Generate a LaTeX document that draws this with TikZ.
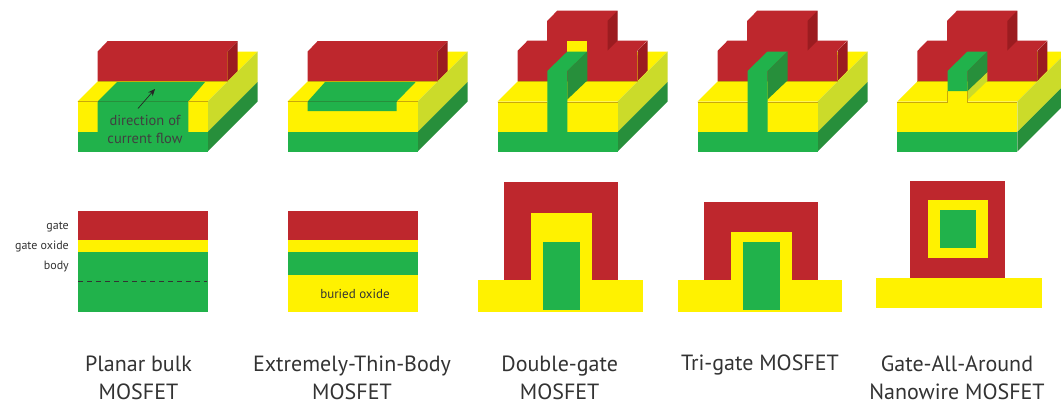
\documentclass[tikz,border=0pt]{standalone}
\usepackage{fontspec}
\setmainfont{PT Sans}
\usetikzlibrary{arrows.meta}
\definecolor{cred}{HTML}{BE272D}
\definecolor{dred}{HTML}{9B1C20}
\definecolor{cyel}{HTML}{FFF200}
\definecolor{cgrn}{HTML}{21B24B}
\definecolor{dgrn}{HTML}{278F3B}
\definecolor{lime}{HTML}{CBDB2A}
\definecolor{oliv}{HTML}{C9A80A}
\definecolor{txt}{HTML}{333333}
\tikzset{
  gatef/.style={fill=cred},
  gates/.style={fill=dred},
  oxf/.style={fill=cyel},
  oxs/.style={fill=lime},
  bodyf/.style={fill=cgrn},
  bodys/.style={fill=dgrn},
  oedge/.style={draw=oliv,line width=0.9pt},
  captext/.style={font=\fontsize{22}{27.5}\selectfont,align=center,text=txt,inner sep=0pt},
  smalltext/.style={font=\fontsize{12}{18}\selectfont,text=txt,inner sep=0pt},
}
% base slab: #1 = front left x, #2 = width
\newcommand{\slab}[2]{
  \fill[oxf] (#1,101.5) -- ++(50,-50) -- ++(#2,0) -- ++(-50,50) -- cycle;
  \fill[oxs] (#1+#2,101.5) -- ++(50,-50) -- ++(0,30.5) -- ++(-50,50) -- cycle;
  \fill[bodys] (#1+#2,132) -- ++(50,-50) -- ++(0,19.5) -- ++(-50,50) -- cycle;
  \fill[oxf] (#1,101.5) rectangle (#1+#2,132);
  \fill[bodyf] (#1,132) rectangle (#1+#2,151.5);
}
% low gate bar
\newcommand{\bargate}[1]{
  \fill[gatef] (#1,81) -- (#1,51.5) -- ++(10,-10.5) -- ++(130,0) -- ++(-10,10.5) -- (#1+130,81) -- cycle;
  \fill[gates] (#1+130,81) -- (#1+130,51.5) -- ++(10,-10.5) -- ++(0,30) -- cycle;
  \draw[oliv,line width=0.6pt] (#1,81) -- (#1+130,81);
}
% stepped gate
\newcommand{\stepgate}[1]{
  \fill[gatef] (#1,81) -- (#1,51) -- ++(10,-10.3) -- ++(19.7,0) -- ++(0,-19.7) -- ++(10,-10.3) -- ++(60,0) -- ++(0,30) -- ++(30,0) -- ++(-10,10.3) -- (#1+120,81) -- cycle;
  \fill[gates] (#1+120,81) -- (#1+120,51) -- ++(10,-10.3) -- ++(0,30) -- cycle;
  \fill[gates] (#1+90,50.5) -- (#1+90,21) -- ++(10,-10.3) -- ++(0,30) -- cycle;
  \draw[oliv,line width=0.6pt] (#1,81) -- (#1+120,81);
}
\begin{document}
\begin{tikzpicture}[x=1pt,y=-1pt]
\path[use as bounding box] (0,0) rectangle (1061,407);
\clip (0,0) rectangle (1061,407);
\fill[white] (0,0) rectangle (1061,407);

% ---- 3D panel 1
\slab{77.7}{130}
\fill[bodyf] (97.7,101.5) -- (118,81) -- (206,81) -- (188.3,101.5) -- (188.3,132) -- (97.7,132) -- cycle;
\bargate{97.7}
\draw[oedge] (77.7,101.5) -- (97.7,101.5) (188.3,101.5) -- (207.7,101.5);
\draw[dgrn,line width=0.7pt] (97.7,101.5) -- (188.3,101.5);
\coordinate (a1) at (138,108.5);
\coordinate (a2) at (155,89);
\draw[-{Stealth[length=7pt,width=6pt]},black!85,line width=0.7pt] (a1) -- (a2);
\node[smalltext,font=\fontsize{14.5}{18}\selectfont,align=center,text=black!75] (dir) at (145,129) {direction of\\current flow};

% ---- 3D panel 2
\slab{287.7}{130}
\fill[bodyf] (307.7,101.5) -- (326,81) -- (416.7,81) -- (396.7,101.5) -- (396.7,111) -- (307.7,111) -- cycle;
\bargate{307.7}
\draw[oedge] (287.7,101.5) -- (307.7,101.5) (396.7,101.5) -- (417.7,101.5);
\draw[dgrn,line width=0.7pt] (307.7,101.5) -- (396.7,101.5);

% ---- 3D panel 3
\slab{497.5}{120}
\stepgate{517.5}
\fill[oxf] (567.3,41) rectangle (587.3,51.5);
\draw[oedge] (497.5,102) -- (547.3,102) (567.3,102) -- (617.5,102);
\fill[bodyf] (547.3,132) -- (547.3,71) -- (567.3,51.5) -- (587.3,51.5) -- (567.3,71) -- (567.3,132) -- cycle;
\fill[bodys] (567.3,71) -- (587.3,51.5) -- (587.3,80.5) -- (567.3,99.5) -- cycle;

% ---- 3D panel 4
\slab{697.5}{120}
\stepgate{717.5}
\draw[oedge] (697.5,102) -- (747.5,102) (767.5,102) -- (817.5,102);
\fill[bodyf] (747.5,132) -- (747.5,71) -- (767.5,51.5) -- (787.5,51.5) -- (767.5,71) -- (767.5,132) -- cycle;
\fill[bodys] (767.5,71) -- (787.5,51.5) -- (787.5,80.5) -- (767.5,99.5) -- cycle;

% ---- 3D panel 5
\slab{897.3}{120}
\stepgate{917.3}
\fill[oxs] (967.5,91) -- (987.3,72) -- (987.3,81) -- (967.5,100) -- cycle;
\fill[oxf] (947.5,90) rectangle (967.5,103);
\draw[oedge] (897.3,102) -- (947.5,102) -- (947.5,91) (967.5,91) -- (967.5,102) -- (1017.3,102);
\fill[bodyf] (947.5,91) -- (947.5,71) -- (967.5,51.5) -- (987.3,51.5) -- (967.5,71) -- (967.5,91) -- cycle;
\fill[bodys] (967.5,71) -- (987.3,51.5) -- (987.3,72) -- (967.5,91) -- cycle;

% ---- cross-section 1
\fill[gatef] (77.7,210.7) rectangle (207.7,240);
\fill[oxf] (77.7,240) rectangle (207.7,251.7);
\fill[bodyf] (77.7,251.7) rectangle (207.7,312);
\draw[black!80,line width=0.8pt,dash pattern=on 4.5pt off 4.5pt] (78,281.7) -- (207,281.7);
\node[smalltext,anchor=east] (lgate) at (69,227) {gate};
\node[smalltext,anchor=east] (lox) at (69,247) {gate oxide};
\node[smalltext,anchor=east] (lbody) at (69,267) {body};

% ---- cross-section 2
\fill[gatef] (288.3,211) rectangle (418.3,240);
\fill[oxf] (288.3,240) rectangle (418.3,252);
\fill[bodyf] (288.3,252) rectangle (418.3,275.3);
\fill[oxf] (288.3,275.3) rectangle (418.3,311.7);
\node[smalltext,font=\fontsize{13}{18}\selectfont,text=black!80] (box) at (355,294) {buried oxide};

% ---- cross-section 3
\fill[gatef] (504,182) rectangle (617.5,280);
\fill[oxf] (477.5,279.7) rectangle (642.5,311.7);
\fill[oxf] (531.3,213.3) rectangle (592.2,280);
\fill[bodyf] (542.6,242) rectangle (580.2,310);

% ---- cross-section 4
\fill[gatef] (703.8,202) rectangle (817.7,280);
\fill[oxf] (677.5,279.7) rectangle (842.2,311.7);
\fill[oxf] (731.3,231.7) rectangle (791.8,280);
\fill[bodyf] (742.6,242) rectangle (779.8,310);

% ---- cross-section 5
\fill[gatef] (909.8,181.3) rectangle (1004.6,278);
\fill[oxf] (876.4,278) rectangle (1042.2,308.3);
\fill[oxf] (927.9,199.7) rectangle (988,258.3);
\fill[bodyf] (939.5,210) rectangle (976.4,247.7);

% ---- captions
\node[captext] (c1) at (138.5,378) {Planar bulk\\MOSFET};
\node[captext] (c2) at (352,378) {Extremely-Thin-Body\\MOSFET};
\node[captext] (c3) at (559.7,378) {Double-gate\\MOSFET};
\node[captext] (c4) at (760,364.5) {Tri-gate MOSFET};
\node[captext] (c5) at (957,378) {Gate-All-Around\\Nanowire MOSFET};
\end{tikzpicture}
\end{document}
